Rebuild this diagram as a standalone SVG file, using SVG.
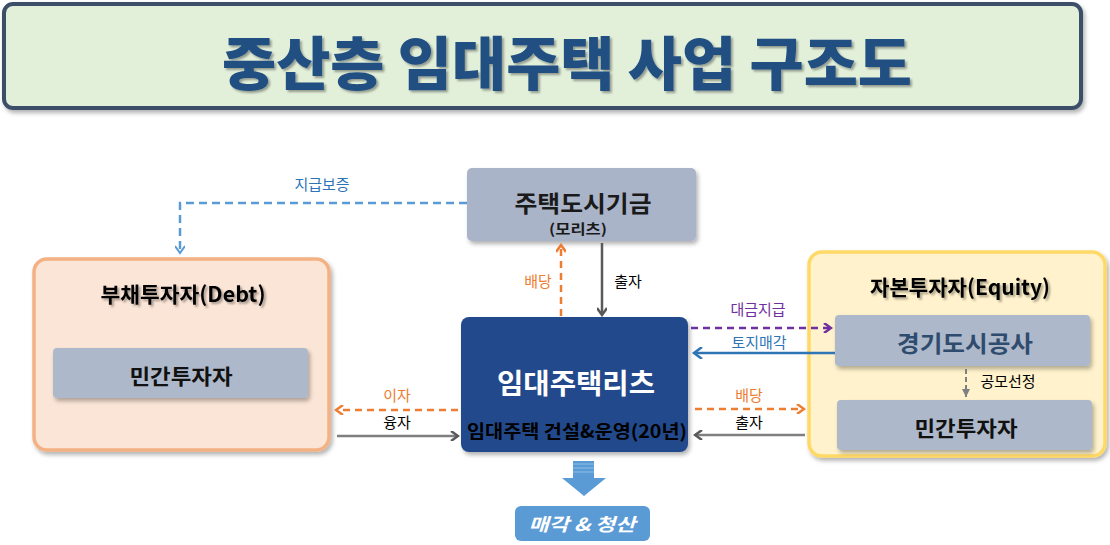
<svg xmlns="http://www.w3.org/2000/svg" width="1110" height="545" viewBox="0 0 1110 545">
<defs>
<filter id="sh" x="-10%" y="-10%" width="130%" height="130%"><feDropShadow dx="2" dy="3" stdDeviation="2" flood-color="#000" flood-opacity="0.3"/></filter>
<filter id="tsh" x="-5%" y="-5%" width="115%" height="130%"><feDropShadow dx="2" dy="2" stdDeviation="1.2" flood-color="#000" flood-opacity="0.35"/></filter>
<marker id="mBlue" markerWidth="10" markerHeight="10" refX="8" refY="5" orient="auto" markerUnits="userSpaceOnUse"><path d="M1,0 L8,5 L1,10" fill="none" stroke="#5b9bd5" stroke-width="2"/></marker>
<marker id="mOr" markerWidth="10" markerHeight="10" refX="8" refY="5" orient="auto" markerUnits="userSpaceOnUse"><path d="M1,0 L8,5 L1,10" fill="none" stroke="#ed7d31" stroke-width="2.5"/></marker>
<marker id="mGr" markerWidth="10" markerHeight="10" refX="8" refY="5" orient="auto" markerUnits="userSpaceOnUse"><path d="M1,0 L8,5 L1,10" fill="none" stroke="#595959" stroke-width="2.5"/></marker>
<marker id="mPu" markerWidth="10" markerHeight="10" refX="8" refY="5" orient="auto" markerUnits="userSpaceOnUse"><path d="M1,0 L8,5 L1,10" fill="none" stroke="#7030a0" stroke-width="2.5"/></marker>
<marker id="mBl2" markerWidth="12" markerHeight="12" refX="9" refY="6" orient="auto" markerUnits="userSpaceOnUse"><path d="M1,0 L9,6 L1,12" fill="none" stroke="#2e75b6" stroke-width="2.5"/></marker>
<marker id="mGd" markerWidth="10" markerHeight="10" refX="8" refY="5" orient="auto" markerUnits="userSpaceOnUse"><path d="M0,1 L8,5 L0,9 Z" fill="#7f7f7f"/></marker>
</defs>
<style>
text{font-family:"Noto Sans CJK KR","Malgun Gothic",sans-serif;text-anchor:middle}
.b{font-weight:700}
.lbl{font-size:15px}
.ln{fill:none;stroke-width:2.5}
.inner{fill:#adb9ca}
</style>
<rect width="1110" height="545" fill="#fff"/>

<g id="title">
<rect x="4" y="4" width="1077" height="104" rx="9" fill="#e2efd9" stroke="#3d5068" stroke-width="4" filter="url(#sh)"/>
<text x="567" y="85" font-size="58" font-weight="900" fill="#215081" textLength="690" lengthAdjust="spacingAndGlyphs" filter="url(#tsh)">중산층 임대주택 사업 구조도</text>
</g>

<g id="fund">
<rect x="467" y="168" width="229" height="73" rx="5" fill="#aab4c8" filter="url(#sh)"/>
<text x="583" y="212" class="b" font-size="23" fill="#1a1a1a" textLength="137" lengthAdjust="spacingAndGlyphs">주택도시기금</text>
<text x="578" y="234" class="b" font-size="14" fill="#1a1a1a" textLength="58" lengthAdjust="spacingAndGlyphs">(모리츠)</text>
</g>

<g id="debt">
<rect x="34" y="259" width="295" height="191" rx="13" fill="#fbe5d6" stroke="#f4b183" stroke-width="3.5" filter="url(#sh)"/>
<text x="183" y="302" class="b" font-size="21" fill="#000" textLength="165" lengthAdjust="spacingAndGlyphs" filter="url(#tsh)">부채투자자(Debt)</text>
<rect x="53" y="348" width="255" height="50" rx="4" class="inner" filter="url(#sh)"/>
<text x="181" y="384" class="b" font-size="21" fill="#111" textLength="103" lengthAdjust="spacingAndGlyphs">민간투자자</text>
</g>

<g id="reits">
<rect x="461" y="317" width="227" height="135" rx="8" fill="#214a8b" filter="url(#sh)"/>
<text x="576" y="394" class="b" font-size="28" fill="#fff" textLength="158" lengthAdjust="spacingAndGlyphs">임대주택리츠</text>
<text x="577" y="438" class="b" font-size="18" fill="#000" textLength="220" lengthAdjust="spacingAndGlyphs">임대주택 건설&amp;운영(20년)</text>
</g>

<g id="equity">
<rect x="809" y="252" width="296" height="204" rx="13" fill="#fff2cc" stroke="#ffd966" stroke-width="3.5" filter="url(#sh)"/>
<text x="960" y="295" class="b" font-size="21" fill="#000" textLength="180" lengthAdjust="spacingAndGlyphs" filter="url(#tsh)">자본투자자(Equity)</text>
<rect x="835" y="315" width="255" height="51" rx="4" class="inner" filter="url(#sh)"/>
<text x="965" y="352" class="b" font-size="23" fill="#2f4b6e" textLength="136" lengthAdjust="spacingAndGlyphs">경기도시공사</text>
<rect x="837" y="400" width="255" height="50" rx="4" class="inner" filter="url(#sh)"/>
<text x="966" y="436" class="b" font-size="21" fill="#111" textLength="103" lengthAdjust="spacingAndGlyphs">민간투자자</text>
</g>

<g id="sale">
<path d="M573,461 H594 V478 H606 L584,496 L562,478 H573 Z" fill="#5b9bd5"/>
<path d="M573,464 H594 M573,468 H594 M573,472 H594" stroke="#8fbce6" stroke-width="1"/>
<rect x="515" y="506" width="135" height="35" rx="6" fill="#5b9bd5"/>
<text x="582" y="531" class="b" font-size="18" fill="#fff" font-style="italic" textLength="107" lengthAdjust="spacingAndGlyphs">매각 &amp; 청산</text>
</g>

<g id="connectors">
<path class="ln" d="M467,203 H180 V253" stroke="#5b9bd5" stroke-dasharray="8,5" marker-end="url(#mBlue)"/>
<path class="ln" d="M561,316 V245" stroke="#ed7d31" stroke-dasharray="7,5" marker-end="url(#mOr)"/>
<path class="ln" d="M602,243 V315" stroke="#595959" marker-end="url(#mGr)"/>
<path class="ln" d="M691,328 H831" stroke="#7030a0" stroke-dasharray="7,5" marker-end="url(#mPu)"/>
<path class="ln" d="M835,353 H694" stroke="#2e75b6" marker-end="url(#mBl2)"/>
<path class="ln" d="M695,409 H804" stroke="#ed7d31" stroke-dasharray="7,5" marker-end="url(#mOr)"/>
<path class="ln" d="M805,435 H695" stroke="#7f7f7f" marker-end="url(#mGr)"/>
<path class="ln" d="M458,410 H336" stroke="#ed7d31" stroke-dasharray="7,5" marker-end="url(#mOr)"/>
<path class="ln" d="M337,436 H458" stroke="#7f7f7f" marker-end="url(#mGr)"/>
<path d="M966,369 V397" fill="none" stroke="#7f7f7f" stroke-width="2" stroke-dasharray="5,3" marker-end="url(#mGd)"/>
<text x="322" y="190" class="lbl" fill="#2e75b6">지급보증</text>
<text x="538" y="287" class="lbl" fill="#ed7d31">배당</text>
<text x="628" y="287" class="lbl" fill="#000">출자</text>
<text x="758" y="315" class="lbl" fill="#7030a0">대금지급</text>
<text x="759" y="348" class="lbl" fill="#2e75b6">토지매각</text>
<text x="749" y="401" class="lbl" fill="#ed7d31">배당</text>
<text x="749" y="428" class="lbl" fill="#000">출자</text>
<text x="397" y="401" class="lbl" fill="#ed7d31">이자</text>
<text x="397" y="428" class="lbl" fill="#000">융자</text>
<text x="1008" y="387" class="lbl" fill="#000">공모선정</text>
</g>
</svg>
